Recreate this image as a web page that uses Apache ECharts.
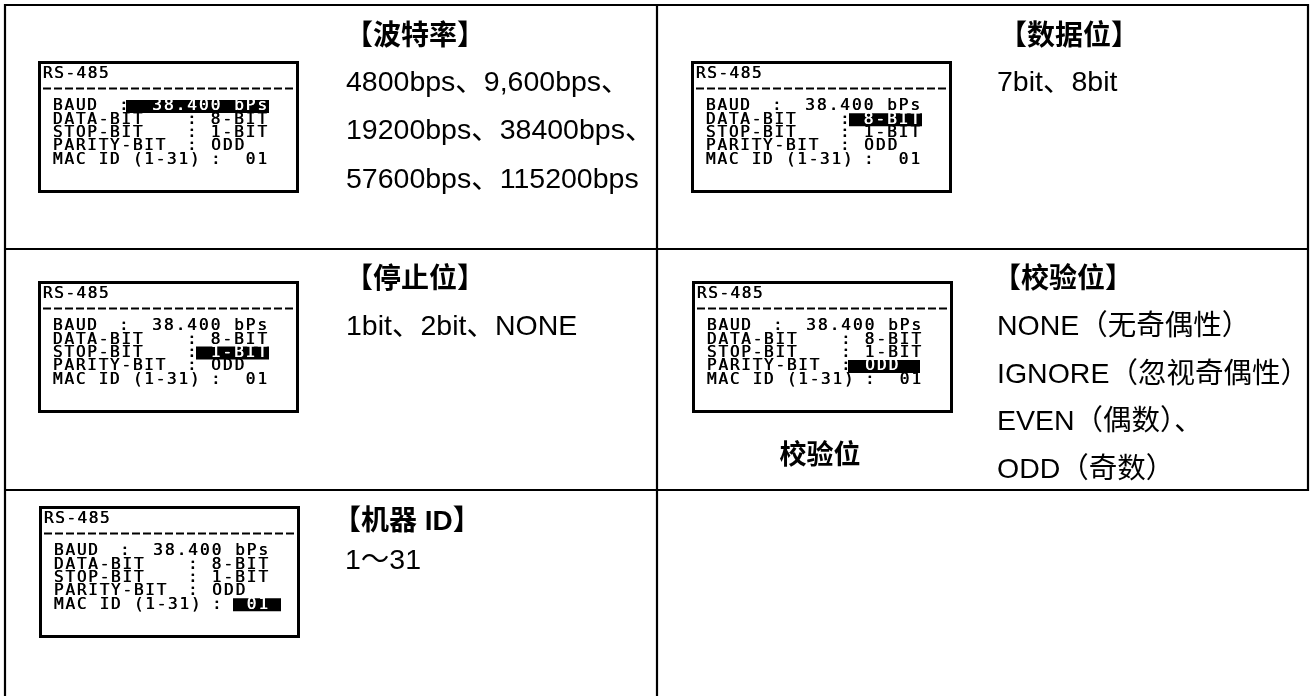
<!DOCTYPE html>
<html><head><meta charset="utf-8">
<script src="https://cdn.jsdelivr.net/npm/echarts@6/dist/echarts.min.js"></script>
<style>html,body{margin:0;padding:0;background:#fff}#c{width:1312px;height:696px}</style>
</head><body><div id="c"></div>
<script>
// ---- content ----
const lcdTitle = 'RS-485';
const lcdLabels = ['BAUD', 'DATA-BIT', 'STOP-BIT', 'PARITY-BIT', 'MAC ID (1-31)'];
const lcdValues = ['38.400 bPs', '8-BIT', '1-BIT', 'ODD', '01'];
const panelTitles = ['【波特率】', '【数据位】', '【停止位】', '【校验位】', '【机器 ID】'];
const panelBodies = [
  ['4800bps、9,600bps、', '19200bps、38400bps、', '57600bps、115200bps'],
  ['7bit、8bit'],
  ['1bit、2bit、NONE'],
  ['NONE（无奇偶性）', 'IGNORE（忽视奇偶性）', 'EVEN（偶数）、', 'ODD（奇数）'],
  ['1～31']
];
const panelHighlightRow = [0, 1, 2, 3, 4];
const panelCaptions = ['', '', '', '校验位', ''];

// ---- layout (positions/styles) ----
const LCD_FONT = '17px "DejaVu Sans Mono", monospace';
const TXT_FONT = '"Liberation Sans", "Noto Sans CJK SC", sans-serif';
const SX = 0.95, SY = 0.9;
const LABEL_PITCH = 11.4, VALUE_PITCH = 11.7;
const panelLayout = [
  {lcd: [38, 61],  tx: 345, bx: 346, ty: 37,  by: 83,  gap: 48.5},
  {lcd: [691, 61], tx: 999, bx: 997, ty: 37,  by: 83,  gap: 48},
  {lcd: [38, 281], tx: 345, bx: 346, ty: 280, by: 327, gap: 48},
  {lcd: [692, 281], tx: 993, bx: 997, ty: 280, by: 327, gap: 47.7, cap: [820, 457]},
  {lcd: [39, 506], tx: 333, bx: 345, ty: 522, by: 561, gap: 48}
];
const rowColon = [80, 148, 148, 148, 172];
const rowValue = [[230, 'right'], [230, 'right'], [230, 'right'], [172, 'left'], [230, 'right']];
const rowBox = [[88, 231], [158, 231], [158, 231], [156, 228], [194, 242]];

function txt(x, y, text, font, fill, align, vAlign, sx, sy) {
  return {
    type: 'text', x: x, y: y, scaleX: sx || 1, scaleY: sy || 1, silent: true,
    style: {text: text, font: font, fill: fill || '#000',
      textAlign: align || 'left', align: align || 'left',
      textVerticalAlign: vAlign || 'middle', verticalAlign: vAlign || 'middle'}
  };
}
// pixel-font style: each glyph on a fixed pitch
function lcdText(out, x0, cy, str, pitch, fill) {
  for (let i = 0; i < str.length; i++) {
    const ch = str[i];
    if (ch === ' ') continue;
    out.push(txt(x0 + i * pitch + pitch / 2, cy, ch, LCD_FONT, fill, 'center', 'middle', SX, SY));
    out.push(txt(x0 + i * pitch + pitch / 2 + 0.5, cy, ch, LCD_FONT, fill, 'center', 'middle', SX, SY));
  }
}
function line(x1, y1, x2, y2, w, dash) {
  return {type: 'line', silent: true, shape: {x1, y1, x2, y2},
    style: {stroke: '#000', lineWidth: w || 2, lineDash: dash || null}};
}

const els = [];
// table grid
els.push(line(5, 5, 1309, 5, 2.2));
els.push(line(5, 4, 5, 696, 2.2));
els.push(line(1308, 4, 1308, 491, 2.2));
els.push(line(657, 4, 657, 696, 2.2));
els.push(line(5, 249, 1309, 249, 2.2));
els.push(line(5, 490, 1309, 490, 2.2));

panelLayout.forEach((p, k) => {
  const [x, y] = p.lcd;
  els.push({type: 'rect', silent: true, shape: {x: x + 1.5, y: y + 1.5, width: 258, height: 129},
    style: {fill: '#fff', stroke: '#000', lineWidth: 3}});
  lcdText(els, x + 4, y + 13.5, lcdTitle, 11.2, '#000');
  els.push(line(x + 5, y + 27.5, x + 256, y + 27.5, 2, [8, 3]));
  const hr = panelHighlightRow[k];
  lcdLabels.forEach((lab, i) => {
    const cy = y + 45.5 + i * 13.3;
    if (i === hr) {
      els.push({type: 'rect', silent: true,
        shape: {x: x + rowBox[i][0], y: cy - 6.5, width: rowBox[i][1] - rowBox[i][0], height: 13},
        style: {fill: '#000'}});
    }
    lcdText(els, x + 14, cy, lab, LABEL_PITCH, '#000');
    lcdText(els, x + rowColon[i], cy, ':', LABEL_PITCH, '#000');
    const v = lcdValues[i];
    const vx = rowValue[i][1] === 'right' ? rowValue[i][0] - v.length * VALUE_PITCH : rowValue[i][0];
    lcdText(els, x + vx, cy, v, VALUE_PITCH, i === hr ? '#fff' : '#000');
  });
  els.push(txt(p.tx, p.ty, panelTitles[k], 'bold 28px ' + TXT_FONT, '#000'));
  panelBodies[k].forEach((b, i) => {
    els.push(txt(p.bx, p.by + i * p.gap, b, '28.5px ' + TXT_FONT, '#000'));
  });
  if (panelCaptions[k]) {
    els.push(txt(p.cap[0], p.cap[1], panelCaptions[k], 'bold 27px ' + TXT_FONT, '#000', 'center'));
  }
});

const chart = echarts.init(document.getElementById('c'), null, {renderer: 'canvas'});
chart.setOption({backgroundColor: '#fff', animation: false, graphic: {elements: els}});
</script></body></html>
